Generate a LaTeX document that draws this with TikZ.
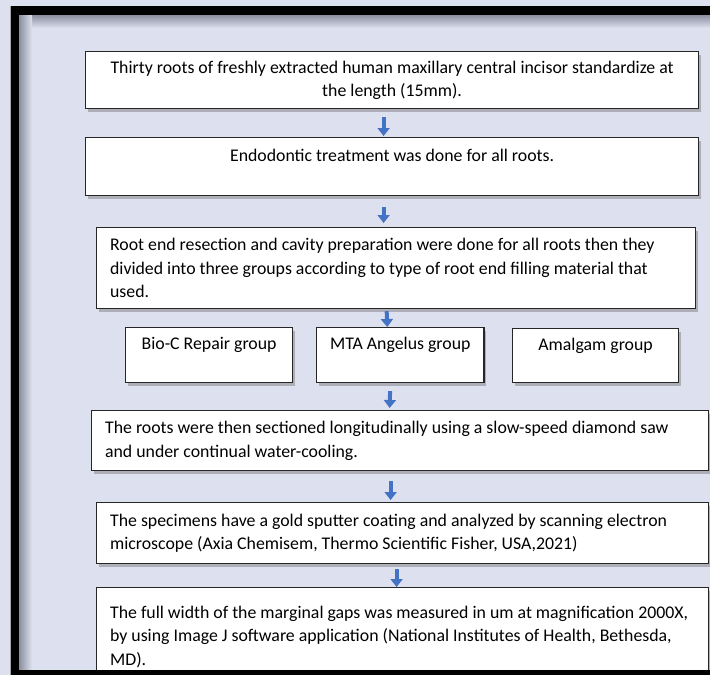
\documentclass[tikz,border=0pt]{standalone}
\usepackage{fontspec}
\setmainfont{Carlito}
\usetikzlibrary{arrows.meta,shadows}

\definecolor{bglav}{HTML}{DDE0EE}
\definecolor{frameshade}{HTML}{8C8FA0}
\definecolor{arrowblue}{HTML}{4472C4}

\begin{document}
\begin{tikzpicture}[x=1pt,y=-1pt,
  box/.style={draw=black!85,line width=1.2pt,fill=white,anchor=north west,
    inner xsep=13.5pt,inner ysep=0pt,
    drop shadow={shadow xshift=2.5pt,shadow yshift=-3pt,fill=black!55,opacity=.45},
    font=\fontsize{17.8}{23.5}\selectfont},
  flow/.style={arrowblue,line width=4pt,-{Triangle[width=12pt,length=8pt]}}]
\useasboundingbox (0,0) rectangle (710,675);
\clip (0,0) rectangle (710,675);

\fill[bglav] (0,0) rectangle (710,675);
\shade[top color=frameshade,bottom color=bglav] (19,15) rectangle (710,28);
\shade[left color=frameshade,right color=bglav] (19,15) rectangle (32,671);

\node[box,minimum width=613pt,minimum height=57pt,align=center] (roots) at (85,51)
  {Thirty roots of freshly extracted human maxillary central incisor standardize at\\the length (15mm).};
\node[box,minimum width=613pt,minimum height=58pt,align=center] (endo) at (85,137)
  {Endodontic treatment was done for all roots.\\~};
\node[box,minimum height=81pt,text width=572pt,align=flush left] (resect) at (96,227)
  {Root end resection and cavity preparation were done for all roots then they\\divided into three groups according to type of root end filling material that\\used.};

\node[box,minimum width=167pt,minimum height=55pt,align=center] (bioc) at (125,327) {Bio-C Repair group\\~};
\node[box,minimum width=166pt,minimum height=55pt,align=center] (mta) at (316,327) {MTA Angelus group\\~};
\node[box,minimum width=166pt,minimum height=54pt,align=center] (amalgam) at (512,328) {Amalgam group\\~};

\node[box,minimum height=60pt,text width=590pt,align=flush left] (section) at (91,410)
  {The roots were then sectioned longitudinally using a slow-speed diamond saw\\and under continual water-cooling.};
\node[box,minimum height=61pt,text width=585pt,align=flush left] (sem) at (96,502)
  {The specimens have a gold sputter coating and analyzed by scanning electron\\microscope (Axia Chemisem, Thermo Scientific Fisher, USA,2021)};
\node[box,minimum height=98pt,text width=585pt,align=flush left] (gaps) at (96,587)
  {\mbox{The full width of the marginal gaps was measured in um at magnification 2000X,}\\\mbox{by using Image J software application (National Institutes of Health, Bethesda,}\\MD).};

\draw[flow,shorten <=8pt,shorten >=1pt] ([xshift=-8.5pt]roots.south) -- ([xshift=-8.5pt]endo.north);
\draw[flow,shorten <=11pt,shorten >=4pt] ([xshift=-8.5pt]endo.south) -- ([xshift=-12.5pt]resect.north);
\draw[flow,shorten <=2pt] ([xshift=-9.5pt]resect.south) -- ([xshift=-13pt]mta.north);
\draw[flow,shorten <=8pt,shorten >=2pt] ([xshift=-10pt]mta.south) -- ([xshift=-10.5pt]section.north);
\draw[flow,shorten <=10pt,shorten >=2pt] ([xshift=-9.5pt]section.south) -- ([xshift=-12pt]sem.north);
\draw[flow,shorten <=5pt] ([xshift=-6pt]sem.south) -- ([xshift=-6pt]gaps.north);

\draw[line width=8.5pt] (15,10.5) rectangle (730,674.5);
\draw[black!35,line width=.6pt] (10.3,6) -- (10.3,675);
\end{tikzpicture}
\end{document}
